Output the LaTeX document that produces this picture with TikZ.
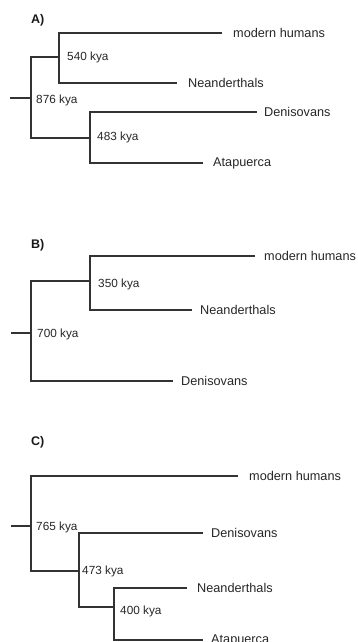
\documentclass[tikz,border=0pt]{standalone}
\usepackage{fontspec}
\setmainfont{Liberation Sans}
\begin{document}
\begin{tikzpicture}[x=1pt,y=-1pt,
  br/.style={line width=1.6pt, draw=black!80},
  lab/.style={anchor=west, inner sep=0pt, font=\fontsize{12.7}{15}\selectfont, text=black!85},
  age/.style={anchor=west, inner sep=0pt, font=\fontsize{11.8}{13}\selectfont, text=black!85},
  ttl/.style={anchor=west, inner sep=0pt, font=\bfseries\fontsize{12.5}{14}\selectfont, text=black!90}]
\useasboundingbox (0,0) rectangle (358,642);

% ---------- Panel A ----------
\node[ttl] (tA) at (31,20) {A)};
\coordinate (rA) at (10,98);
\coordinate (jA) at (31,98);
\coordinate (jA1) at (59,57);
\coordinate (jA2) at (90,138);
\coordinate (mhA) at (222,33);
\coordinate (neA) at (177,83);
\coordinate (deA) at (257,112);
\coordinate (atA) at (203,163);
\node[lab] (lmhA) at (233,33) {modern humans};
\node[lab] (lneA) at (188,83) {Neanderthals};
\node[lab] (ldeA) at (264,112) {Denisovans};
\node[lab] (latA) at (213,163) {Atapuerca};
\node[age] (a540) at (67,57) {540 kya};
\node[age] (a876) at (36,100) {876 kya};
\node[age] (a483) at (97,137) {483 kya};
\draw[br] (rA) -- (jA);
\draw[br] (jA1) -| (jA);
\draw[br] (jA2) -| (jA);
\draw[br] (mhA) -| (jA1) |- (neA);
\draw[br] (deA) -| (jA2) |- (atA);

% ---------- Panel B ----------
\node[ttl] (tB) at (31,245) {B)};
\coordinate (rB) at (11,333);
\coordinate (jB) at (31,333);
\coordinate (jB1) at (90,281);
\coordinate (mhB) at (255,256);
\coordinate (neB) at (192,310);
\coordinate (deB) at (173,381);
\node[lab] (lmhB) at (264,256) {modern humans};
\node[lab] (lneB) at (200,310) {Neanderthals};
\node[lab] (ldeB) at (181,381) {Denisovans};
\node[age] (a350) at (98,284) {350 kya};
\node[age] (a700) at (37,334) {700 kya};
\draw[br] (rB) -- (jB);
\draw[br] (jB1) -| (jB);
\draw[br] (deB) -| (jB);
\draw[br] (mhB) -| (jB1) |- (neB);

% ---------- Panel C ----------
\node[ttl] (tC) at (31,442) {C)};
\coordinate (rC) at (11,526);
\coordinate (jC) at (31,526);
\coordinate (jC1) at (79,571);
\coordinate (jC2) at (114,607);
\coordinate (mhC) at (238,476);
\coordinate (deC) at (203,533);
\coordinate (neC) at (187,588);
\coordinate (atC) at (203,640);
\node[lab] (lmhC) at (249,476) {modern humans};
\node[lab] (ldeC) at (211,533) {Denisovans};
\node[lab] (lneC) at (197,588) {Neanderthals};
\node[lab] (latC) at (211,640) {Atapuerca};
\node[age] (a765) at (36,527) {765 kya};
\node[age] (a473) at (82,571) {473 kya};
\node[age] (a400) at (120,611) {400 kya};
\draw[br] (rC) -- (jC);
\draw[br] (mhC) -| (jC);
\draw[br] (jC1) -| (jC);
\draw[br] (deC) -| (jC1) |- (jC2);
\draw[br] (neC) -| (jC2) |- (atC);
\end{tikzpicture}
\end{document}
